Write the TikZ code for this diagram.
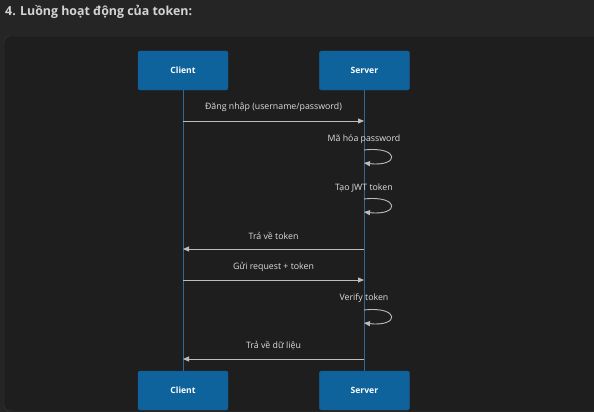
\documentclass[tikz,border=0pt]{standalone}
\usepackage{fontspec}
\setmainfont{Open Sans}
\usetikzlibrary{positioning,arrows.meta}
\definecolor{pagebg}{HTML}{252526}
\definecolor{panelbg}{HTML}{1E1E1E}
\definecolor{panelline}{HTML}{3A3A3A}
\definecolor{actorblue}{HTML}{0E639C}
\definecolor{actorline}{HTML}{1A5A88}
\definecolor{lifeblue}{HTML}{326791}
\definecolor{msggray}{HTML}{BDBDBD}
\definecolor{labelgray}{HTML}{DDDDDD}
\definecolor{titlegray}{HTML}{D4D4D4}

\begin{document}
\begin{tikzpicture}[x=1pt,y=-1pt,
    >={Triangle[length=6pt,width=5pt]},
    actor/.style={%
      rectangle, draw=actorline, fill=actorblue, rounded corners=2pt,
      minimum width=90pt, minimum height=39pt, inner sep=0pt,
      text=white, font=\fontsize{8.6}{10}\selectfont\bfseries
    },
    life/.style={draw=lifeblue, line width=0.8pt},
    msg/.style={->, draw=msggray, line width=0.9pt},
    lbl/.style={text=labelgray, inner sep=0pt, font=\fontsize{8.8}{10}\selectfont}
]
    \useasboundingbox (0,0) rectangle (594,412);
    \fill[pagebg] (0,0) rectangle (594,412);
    \draw[panelline, fill=panelbg, rounded corners=6pt] (4,36) rectangle (620,411);

    \node[anchor=west, inner sep=0pt, text=titlegray, font=\fontsize{12.4}{14}\selectfont\bfseries]
      (title) at (5,12) {4. Luồng hoạt động của token:};

    % participants
    \node[actor] (client)  at (183,70.5)            {Client};
    \node[actor] (server)  [right = 91pt of client]  {Server};
    \node[actor] (client2) at (183,390.5)           {Client};
    \node[actor] (server2) [right = 91pt of client2] {Server};

    \draw[life] (client.south) -- (client2.north);
    \draw[life] (server.south) -- (server2.north);

    % points on the lifelines
    \coordinate (c1) at (183,121);  \coordinate (s1) at (364,121);
    \coordinate (s2a) at (364,150); \coordinate (s2b) at (364,163);
    \coordinate (s3a) at (364,199); \coordinate (s3b) at (364,212);
    \coordinate (c4) at (183,249);  \coordinate (s4) at (364,249);
    \coordinate (c5) at (183,280);  \coordinate (s5) at (364,280);
    \coordinate (s6a) at (364,310); \coordinate (s6b) at (364,323);
    \coordinate (c7) at (183,359);  \coordinate (s7) at (364,359);

    % messages
    \draw[msg] (c1) -- node[lbl, yshift=14pt] {Đăng nhập (username/password)} (s1);
    \node[lbl] (note2) at (364,139) {Mã hóa password};
    \draw[msg] (s2a) .. controls +(36,-4) and +(36,4) .. (s2b);
    \node[lbl] (note3) at (364,188) {Tạo JWT token};
    \draw[msg] (s3a) .. controls +(36,-4) and +(36,4) .. (s3b);
    \draw[msg] (s4) -- node[lbl, yshift=13pt] {Trả về token} (c4);
    \draw[msg] (c5) -- node[lbl, yshift=13pt] {Gửi request + token} (s5);
    \node[lbl] (note6) at (364,298) {Verify token};
    \draw[msg] (s6a) .. controls +(36,-4) and +(36,4) .. (s6b);
    \draw[msg] (s7) -- node[lbl, yshift=13pt] {Trả về dữ liệu} (c7);

\end{tikzpicture}
\end{document}
